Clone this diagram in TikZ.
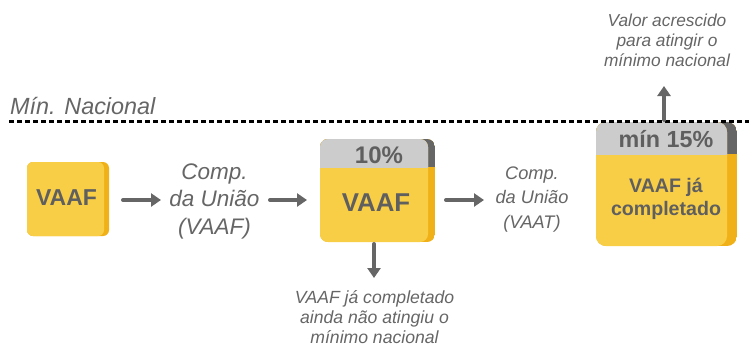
\documentclass[tikz,border=0pt]{standalone}
\usepackage{fontspec}
\setmainfont{Liberation Sans}
\usetikzlibrary{arrows.meta}
\definecolor{txt}{HTML}{5F5F5F}
\definecolor{ylw}{HTML}{F9CE47}
\definecolor{ylwd}{HTML}{F0B118}
\definecolor{gry}{HTML}{CCCCCC}
\definecolor{gryd}{HTML}{666666}
\newcommand{\fs}[1]{\fontsize{#1}{#1}\selectfont}
\tikzset{
  x=1pt,y=-1pt,
  conn/.style={draw=gryd,line width=4pt,line cap=round,-{Triangle[length=10pt,width=13pt]}},
  lbl/.style={text=gryd,font=\itshape,align=center,inner sep=0pt},
  boxlbl/.style={text=txt,font=\bfseries,align=center,inner sep=0pt}
}
% x0,y0,x1,y1,inner right,grey bottom,radius
\newcommand{\cardbox}[7]{%
  \begin{scope}
    \clip[rounded corners=#7pt] (#1,#2) rectangle (#3,#4);
    \fill[ylwd] (#1,#2) rectangle (#3,#4);
    \fill[gryd] (#1,#2) rectangle (#3,#6);
    \fill[ylw,rounded corners=#7pt] (#1,#2) rectangle (#5,#4);
    \fill[ylw] (#1,#6) rectangle (#5,#6+10);
    \begin{scope}
      \clip (#1,#2) rectangle (#3,#6);
      \fill[gry,rounded corners=#7pt] (#1,#2) rectangle (#5,#6+20);
    \end{scope}
  \end{scope}}
\newcommand{\plaincard}[6]{%
  \fill[ylwd,rounded corners=#6pt] (#1,#2) rectangle (#3,#4);
  \fill[ylw,rounded corners=#6pt] (#1,#2) rectangle (#5,#4);}
\begin{document}
\begin{tikzpicture}
\useasboundingbox (0,0) rectangle (749,346);
\fill[white] (0,0) rectangle (749,346);
\plaincard{27}{162}{109}{236}{104}{6}
\cardbox{320}{139}{435}{242}{428}{167}{8}
\cardbox{596}{122}{737}{246}{727}{154}{10}
\draw[black,line width=2.2pt,dash pattern=on 5pt off 3pt] (9,121.5) -- (749,121.5);
\node[lbl,font=\itshape\fs{23.4},anchor=west] (min) at (10,106) {Mín. Nacional};
\node[boxlbl,font=\bfseries\fs{23}] (a) at (66.5,198) {VAAF};
\node[lbl,font=\itshape\fs{22.5}] (c1) at (214.5,201) {Comp.\\[5pt]da União\\[5pt](VAAF)};
\node[boxlbl,font=\bfseries\fs{24}] (p10) at (379,155) {10\%};
\node[boxlbl,font=\bfseries\fs{25.8}] (b) at (376,203) {VAAF};
\node[lbl,font=\itshape\fs{18.2}] (c2) at (532,199.5) {Comp.\\[6.3pt]da União\\[6.3pt](VAAT)};
\node[boxlbl,font=\bfseries\fs{23.3}] (p15) at (666,139) {mín 15\%};
\node[boxlbl,font=\bfseries\fs{19.6}] (d) at (666,199) {VAAF já\\[3.4pt]completado};
\node[lbl,font=\itshape\fs{17.6}] (t1) at (374.5,317) {VAAF já completado\\[2.4pt]ainda não atingiu o\\[2.4pt]mínimo nacional};
\node[lbl,font=\itshape\fs{17.3}] (t2) at (667,40) {Valor acrescido\\[2.7pt]para atingir o\\[2.7pt]mínimo nacional};
\coordinate (boxA) at (123,200);
\coordinate (inA) at (161,200);
\coordinate (outC) at (270,200);
\coordinate (inB) at (307,200);
\coordinate (outB) at (446,200);
\coordinate (inC) at (484,200);
\coordinate (dn0) at (374,244);
\coordinate (dn1) at (374,278);
\coordinate (up0) at (664,120);
\coordinate (up1) at (664,86);
\draw[conn] (boxA) -- (inA);
\draw[conn] (outC) -- (inB);
\draw[conn] (outB) -- (inC);
\draw[conn] (dn0) -- (dn1);
\draw[conn] (up0) -- (up1);
\end{tikzpicture}
\end{document}
